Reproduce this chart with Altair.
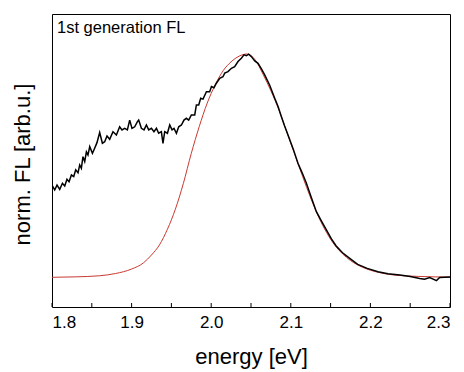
import altair as alt
import pandas as pd

# Fit curve (red)
red_e = [1.80,1.83,1.86,1.88,1.90,1.915,1.925,1.935,1.945,1.955,1.965,1.975,1.985,1.995,2.005,
         2.015,2.025,2.035,2.045,2.055,2.065,2.075,2.085,2.095,2.105,2.115,2.125,2.135,2.145,2.155,
         2.165,2.175,2.19,2.21,2.23,2.26,2.30]
red_i = [0.000,0.002,0.007,0.017,0.037,0.065,0.100,0.145,0.215,0.305,0.420,0.555,0.675,0.780,0.862,
         0.925,0.965,0.990,1.000,0.975,0.910,0.835,0.750,0.650,0.550,0.450,0.355,0.270,0.200,0.145,
         0.105,0.075,0.045,0.022,0.010,0.004,0.001]

black_e = [1.8005,1.8034,1.8063,1.8097,1.8131,1.816,1.8188,1.8214,1.8244,1.8273,
           1.8298,1.8327,1.8348,1.8369,1.8389,1.8411,1.8432,1.8452,1.8474,1.8508,
           1.8536,1.8565,1.8599,1.8633,1.8662,1.8691,1.8725,1.8766,1.8809,1.885,
           1.8879,1.8913,1.8947,1.8976,1.9005,1.9039,1.9073,1.9089,1.9123,1.9156,
           1.9186,1.9215,1.9249,1.9281,1.9312,1.934,1.9374,1.9394,1.9416,1.945,
           1.9479,1.9508,1.9533,1.9563,1.9592,1.9626,1.9658,1.9688,1.9717,1.9751,
           1.9793,1.9814,1.9843,1.9868,1.9897,1.994,1.9981,2.0003,2.0035,2.0065,
           2.0107,2.0148,2.017,2.0211,2.0254,2.0295,2.0337,2.0379,2.0412,2.0442,
           2.0471,2.0505,2.0547,2.0588,2.0631,2.0672,2.0735,2.0798,2.084,2.0882,
           2.092,2.0965,2.103,2.109,2.114,2.1196,2.126,2.132,2.138,2.1447,
           2.151,2.157,2.165,2.174,2.184,2.196,2.2096,2.222,2.237,2.25,
           2.262,2.268,2.2745,2.283,2.287,2.3]
black_i = [0.409,0.391,0.413,0.394,0.421,0.409,0.439,0.428,0.458,0.451,
           0.481,0.468,0.503,0.488,0.540,0.518,0.562,0.548,0.585,0.555,
           0.578,0.603,0.648,0.600,0.607,0.633,0.618,0.652,0.637,0.674,
           0.660,0.667,0.660,0.704,0.667,0.674,0.697,0.704,0.667,0.660,
           0.682,0.660,0.667,0.652,0.667,0.645,0.652,0.600,0.652,0.645,
           0.682,0.660,0.667,0.645,0.674,0.682,0.704,0.712,0.704,0.727,
           0.727,0.772,0.772,0.802,0.798,0.831,0.831,0.854,0.849,0.869,
           0.891,0.898,0.914,0.921,0.936,0.943,0.966,0.981,0.996,0.992,
           0.999,0.988,0.969,0.958,0.933,0.906,0.86,0.802,0.765,0.719,
           0.68,0.637,0.575,0.511,0.47,0.421,0.355,0.295,0.255,0.212,
           0.172,0.140,0.11,0.085,0.058,0.04,0.025,0.016,0.010,0.004,
           -0.005,-0.009,-0.001,-0.015,-0.001,0.001]

tick_values = [1.8,1.85,1.9,1.95,2.0,2.05,2.1,2.15,2.2,2.25,2.3]
label_values = [1.8,1.9,2.0,2.1,2.2,2.3]

W, H = 398, 293
FONT = "Liberation Sans"

xscale = alt.Scale(domain=[1.8, 2.3], nice=False, zero=False)
yscale = alt.Scale(domain=[-0.133, 1.179], nice=False, zero=False)

red_df = pd.DataFrame({"E": red_e, "I": red_i})
black_df = pd.DataFrame({"E": black_e, "I": black_i})
tick_df = pd.DataFrame({"E": tick_values})

xaxis = alt.Axis(values=label_values, format=".1f", ticks=False, domain=False, grid=False,
                 labelFont=FONT, labelFontSize=17, labelColor="black", labelPadding=7,
                 title="energy [eV]", titleFont=FONT, titleFontSize=22, titleFontWeight="normal",
                 titleColor="black", titleX=199, titleY=56, titleBaseline="alphabetic",
                 titleAnchor="middle", titleAlign="center")
yaxis = alt.Axis(labels=False, ticks=False, domain=False, grid=False,
                 title="norm. FL [arb.u.]", titleFont=FONT, titleFontSize=22,
                 titleFontWeight="normal", titleColor="black", titleX=-23, titleY=150,
                 titleAngle=-90, titleBaseline="alphabetic", titleAlign="center")

red = alt.Chart(red_df).mark_line(color="#c83a32", strokeWidth=1, interpolate="monotone").encode(
    x=alt.X("E:Q", scale=xscale, axis=xaxis),
    y=alt.Y("I:Q", scale=yscale, axis=yaxis),
)
black = alt.Chart(black_df).mark_line(color="black", strokeWidth=1.5).encode(
    x=alt.X("E:Q", scale=xscale),
    y=alt.Y("I:Q", scale=yscale),
)
ticks = alt.Chart(tick_df).mark_rule(color="black", strokeWidth=1).encode(
    x=alt.X("E:Q", scale=xscale),
    y=alt.value(H),
    y2=alt.value(H - 4),
)
label = alt.Chart(pd.DataFrame({"t": ["1st generation FL"]})).mark_text(
    font=FONT, fontSize=16.5, color="black", align="left", baseline="alphabetic"
).encode(x=alt.value(5), y=alt.value(19), text="t:N")

chart = alt.layer(red, black, ticks, label).properties(
    width=W, height=H,
    autosize=alt.AutoSizeParams(type="none"),
    padding={"left": 52, "top": 14, "right": 14, "bottom": 65},
    background="white",
).configure_view(stroke="black", strokeWidth=1)

chart.save("out.html", embed_options={"renderer": "svg", "actions": False})
